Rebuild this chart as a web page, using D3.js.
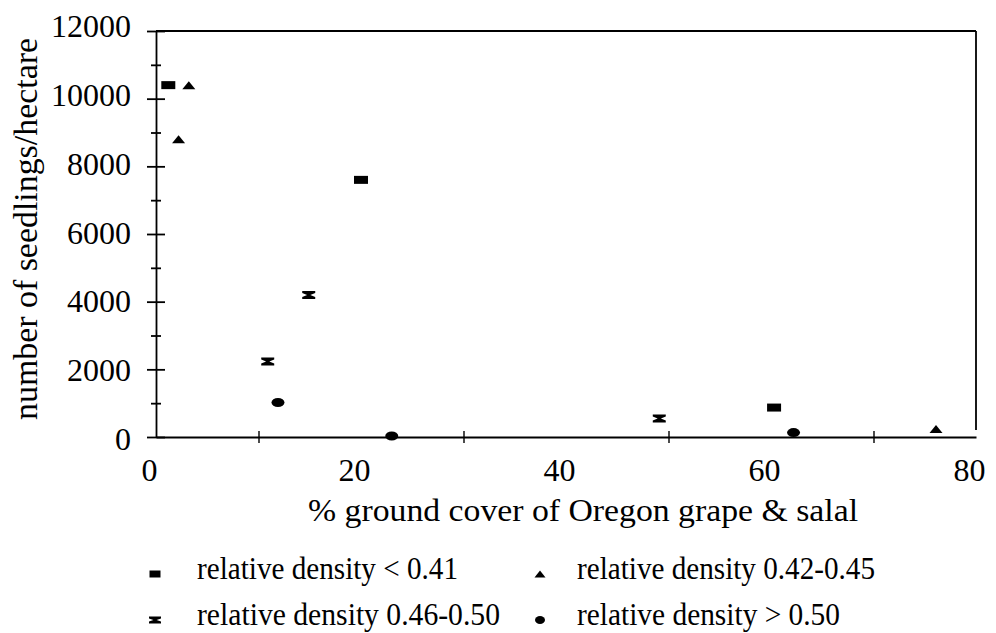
<!DOCTYPE html>
<html>
<head>
<meta charset="utf-8">
<script src="https://cdn.jsdelivr.net/npm/d3@7/dist/d3.min.js"></script>
</head>
<body style="margin:0;background:#fff">
<svg id="chart" width="996" height="633"></svg>
<script>
// Seedling density against ground cover, split by relative stand density class
const seriesNames = [
  "relative density < 0.41",
  "relative density 0.42-0.45",
  "relative density 0.46-0.50",
  "relative density > 0.50"
];
const coverLow   = [1.2, 20.0, 60.3];
const seedsLow   = [10400, 7600, 870];
const coverMidA  = [3.2, 2.2, 76.1];
const seedsMidA  = [10400, 8800, 240];
const coverMidB  = [14.9, 10.9, 49.1];
const seedsMidB  = [4200, 2230, 550];
const coverHigh  = [11.9, 23.0, 62.2];
const seedsHigh  = [1020, 30, 130];

const xLabelValues = [0, 20, 40, 60, 80];
const xTickValues  = [10, 30, 50, 70];
const yLabelValues = [0, 2000, 4000, 6000, 8000, 10000, 12000];
const yMinorValues = [1000, 3000, 5000, 7000, 9000, 11000];

const xTitle = "% ground cover of Oregon grape & salal";
const yTitle = "number of seedlings/hectare";

const FONT = '"Liberation Serif"';
const svg = d3.select("#chart");

const x = d3.scaleLinear().domain([0, 80]).range([156, 976]);
const y = d3.scaleLinear().domain([0, 12000]).range([437, 31]);
// label placement runs on its own scales so text sits where the printed numbers do
const xLab = d3.scaleLinear().domain([0, 80]).range([149, 969]);
const yLab = d3.scaleLinear().domain([0, 12000]).range([439, 26]);

const axisStroke = 1.8;

// frame: top and right edges
svg.append("line")
  .attr("x1", x(0)).attr("x2", x(80)).attr("y1", y(12000)).attr("y2", y(12000))
  .attr("stroke", "#000").attr("stroke-width", axisStroke);
svg.append("line")
  .attr("x1", x(80)).attr("x2", x(80)).attr("y1", y(12000)).attr("y2", y(0) - 7)
  .attr("stroke", "#000").attr("stroke-width", axisStroke);

// y axis with crossing ticks
const yMajor = svg.append("g").attr("transform", `translate(${x(0)},0)`)
  .call(d3.axisLeft(y).tickValues(yLabelValues).tickSize(9).tickSizeOuter(0).tickFormat(""));
yMajor.selectAll(".tick line").attr("x1", 9).attr("stroke-width", axisStroke);
yMajor.select(".domain").attr("stroke-width", axisStroke);
const yMinor = svg.append("g").attr("transform", `translate(${x(0)},0)`)
  .call(d3.axisLeft(y).tickValues(yMinorValues).tickSize(5).tickSizeOuter(0).tickFormat(""));
yMinor.selectAll(".tick line").attr("x1", 5).attr("stroke-width", axisStroke);
yMinor.select(".domain").remove();

// x axis with crossing ticks
const xAx = svg.append("g").attr("transform", `translate(0,${y(0)})`)
  .call(d3.axisBottom(x).tickValues(xTickValues).tickSize(6).tickSizeOuter(0).tickFormat(""));
xAx.selectAll(".tick line").attr("y1", -6).attr("stroke-width", 1.4);
xAx.select(".domain").attr("stroke-width", axisStroke);

// tick labels
const yLabels = svg.append("g").attr("transform", "translate(131,0)")
  .call(d3.axisLeft(yLab).tickValues(yLabelValues).tickSize(0).tickPadding(0).tickFormat(d3.format("d")));
yLabels.select(".domain").remove();
yLabels.selectAll("text")
  .attr("dy", "0.33em").attr("fill", "#000")
  .style("font-family", FONT).style("font-size", "32px");

const xLabels = svg.append("g").attr("transform", "translate(0,481)")
  .call(d3.axisBottom(xLab).tickValues(xLabelValues).tickSize(0).tickPadding(0).tickFormat(d3.format("d")));
xLabels.select(".domain").remove();
xLabels.selectAll("text")
  .attr("dy", 0).attr("fill", "#000")
  .style("font-family", FONT).style("font-size", "32px");

// axis titles
svg.append("text")
  .attr("x", 583).attr("y", 521)
  .attr("text-anchor", "middle")
  .attr("textLength", 550).attr("lengthAdjust", "spacingAndGlyphs")
  .style("font-family", FONT).style("font-size", "32px")
  .text(xTitle);
svg.append("text")
  .attr("transform", "translate(37,229) rotate(-90)")
  .attr("text-anchor", "middle")
  .attr("textLength", 382).attr("lengthAdjust", "spacingAndGlyphs")
  .style("font-family", FONT).style("font-size", "33px")
  .text(yTitle);

// marker outlines, centred on the origin
function markerPath(kind, w, h) {
  const hw = w / 2, hh = h / 2;
  if (kind === "square") {
    return `M${-hw},${-hh}H${hw}V${hh}H${-hw}Z`;
  }
  if (kind === "triangle") {
    return `M0,${-hh}L${hw},${hh}H${-hw}Z`;
  }
  if (kind === "hourglass") {
    const bar = 2, waist = 1.6;
    return `M${-hw},${-hh}H${hw}V${-hh + bar}L${waist},0L${hw},${hh - bar}V${hh}H${-hw}V${hh - bar}L${-waist},0L${-hw},${-hh + bar}Z`;
  }
  // ellipse
  return `M${-hw},0A${hw},${hh} 0 1,0 ${hw},0A${hw},${hh} 0 1,0 ${-hw},0Z`;
}

const series = [
  { name: seriesNames[0], kind: "square",    xs: coverLow,  ys: seedsLow,  size: [14, 8], legendSize: [11, 7] },
  { name: seriesNames[1], kind: "triangle",  xs: coverMidA, ys: seedsMidA, size: [13, 8], legendSize: [11, 7] },
  { name: seriesNames[2], kind: "hourglass", xs: coverMidB, ys: seedsMidB, size: [13, 8], legendSize: [12, 7] },
  { name: seriesNames[3], kind: "ellipse",   xs: coverHigh, ys: seedsHigh, size: [13, 9], legendSize: [10, 8] }
];

// data points
series.forEach(s => {
  const pts = s.xs.map((v, i) => ({ cover: v, seeds: s.ys[i] }));
  svg.append("g").selectAll("path").data(pts).join("path")
    .attr("d", markerPath(s.kind, s.size[0], s.size[1]))
    .attr("transform", d => `translate(${x(d.cover)},${y(d.seeds)})`)
    .attr("fill", "#000");
});

// legend, two columns by two rows
const legendCols = [155, 540];
const legendTextX = [197, 577];
const legendRows = [579, 625];
const legendWidths = [261, 298, 303, 263];
series.forEach((s, i) => {
  const col = i % 2, row = Math.floor(i / 2);
  const g = svg.append("g");
  g.append("path")
    .attr("d", markerPath(s.kind, s.legendSize[0], s.legendSize[1]))
    .attr("transform", `translate(${legendCols[col]},${legendRows[row] - 5})`)
    .attr("fill", "#000");
  g.append("text")
    .attr("x", legendTextX[col]).attr("y", legendRows[row])
    .attr("textLength", legendWidths[i]).attr("lengthAdjust", "spacingAndGlyphs")
    .attr("fill", "#000")
    .style("font-family", FONT).style("font-size", "32px")
    .text(s.name);
});
</script>
</body>
</html>
